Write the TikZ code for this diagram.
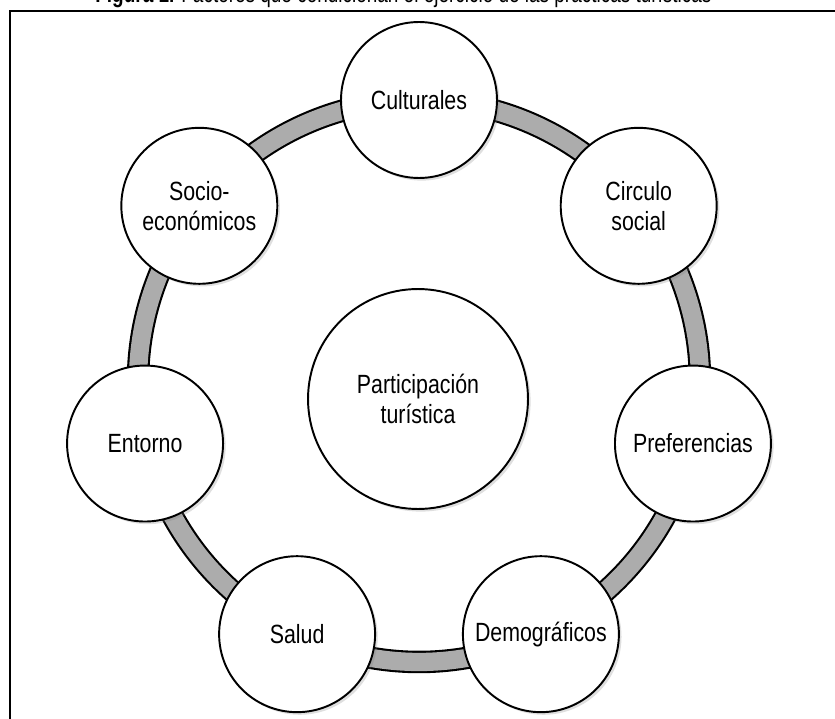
\documentclass[tikz,border=0pt]{standalone}
\usepackage{fontspec}
\setmainfont{Liberation Sans}[FakeStretch=0.81]
\newfontfamily\captionfont{Liberation Sans}[FakeStretch=0.76]
\usetikzlibrary{backgrounds, shadows}
\definecolor{bandgrey}{HTML}{ACACAC}

\begin{document}
\begin{tikzpicture}[%
        x = 0.02cm, y = 0.02cm,
        factor/.style = {
            circle, draw, fill = white, line width = 1.1pt,
            minimum size = 3.12cm, inner sep = 0pt, align = center,
            font = \fontsize{15}{17}\selectfont,
            drop shadow = {shadow xshift = 1.5pt, shadow yshift = -1.5pt,
                opacity = 0.25}
        },
        ring_band/.style = {
            line width = 1.2pt, double = bandgrey, double distance = 10.4pt
        }
    ]
        \useasboundingbox (0, 0) rectangle (835, 718);

        % Frame and caption, both cut by the page edge.
        \draw[line width = 1.1pt] (10, 707) rectangle (845, -10);
        \node[anchor = base west, inner sep = 0pt,
            font = \captionfont\fontsize{14.2}{16}\selectfont] (caption) at (95, 715)
            {\textbf{Figura 1.} Factores que condicionan el ejercicio de las prácticas turísticas};

        \coordinate (ring) at (419, 337);
        \node[factor, minimum size = 4.4cm] (centre) at (418, 319)
            {Participación\\turística};

        \foreach \name/\ang/\txt in {%
                cult/90/Culturales,
                circ/38.57/{Circulo\\social},
                pref/-12.86/Preferencias,
                demo/-64.29/Demográficos,
                salud/-115.71/Salud,
                ento/-167.14/Entorno,
                socio/-218.57/{Socio-\\económicos}} {
            \path (ring) ++(\ang:281) node[factor] (\name) {\txt};
        }

        \begin{scope}[on background layer]
            \foreach \from/\ang in {%
                    cult/90, circ/38.57, pref/-12.86, demo/-64.29,
                    salud/-115.71, ento/-167.14, socio/-218.57} {
                \draw[ring_band] (\from.center)
                    arc[start angle = \ang, delta angle = -51.43, radius = 5.62cm];
            }
        \end{scope}
    \end{tikzpicture}
\end{document}
